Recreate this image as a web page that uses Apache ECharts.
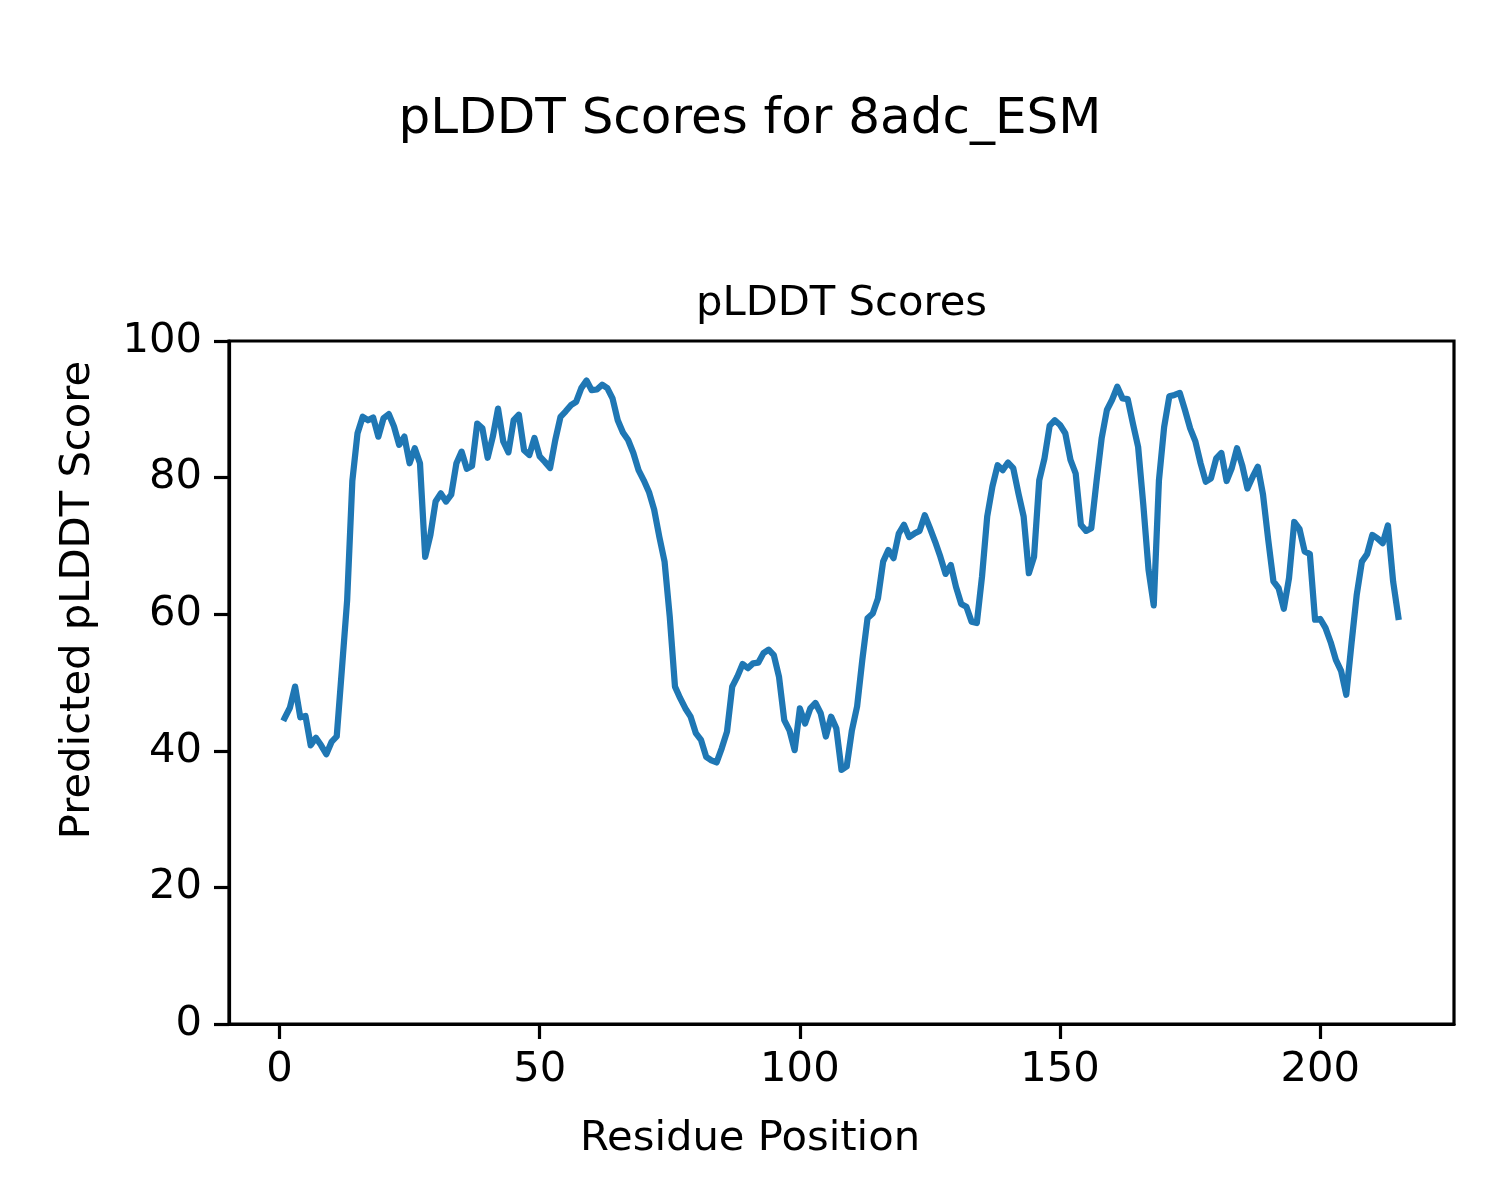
<!DOCTYPE html>
<html>
<head>
<meta charset="utf-8">
<script src="https://cdn.jsdelivr.net/npm/echarts@6/dist/echarts.min.js"></script>
<style>html,body{margin:0;padding:0;background:#fff;}#c{width:1500px;height:1200px;}</style>
</head>
<body>
<div id="c"></div>
<script>
const suptitle = 'pLDDT Scores for 8adc_ESM';
const axesTitle = 'pLDDT Scores';
const xLabel = 'Residue Position';
const yLabel = 'Predicted pLDDT Score';
const xTicks = [0, 50, 100, 150, 200];
const yTicks = [0, 20, 40, 60, 80, 100];
const firstResidue = 1;
const plddt = [
 44.8, 46.3, 49.4, 44.9, 45.1, 40.8, 41.9, 40.8, 39.5, 41.3,
 42.1, 52.0, 62.0, 79.5, 86.5, 88.9, 88.4, 88.8, 86.0, 88.7,
 89.3, 87.5, 84.8, 86.0, 82.1, 84.3, 82.1, 68.4, 71.6, 76.5,
 77.7, 76.5, 77.5, 82.1, 83.8, 81.3, 81.7, 87.9, 87.2, 82.9,
 86.0, 90.1, 85.3, 83.7, 88.4, 89.2, 84.0, 83.3, 85.8, 83.1,
 82.3, 81.4, 85.5, 88.9, 89.7, 90.6, 91.1, 93.1, 94.2, 92.8,
 92.9, 93.6, 93.1, 91.6, 88.4, 86.6, 85.5, 83.6, 81.1, 79.6,
 77.9, 75.3, 71.3, 67.7, 59.6, 49.4, 47.7, 46.2, 45.0, 42.6,
 41.6, 39.1, 38.6, 38.3, 40.4, 42.8, 49.4, 50.9, 52.7, 52.1,
 52.8, 52.9, 54.3, 54.8, 54.0, 50.8, 44.5, 43.0, 40.1, 46.2,
 44.0, 46.2, 47.0, 45.5, 42.1, 45.0, 43.3, 37.2, 37.7, 43.0,
 46.5, 53.3, 59.4, 60.1, 62.3, 67.7, 69.4, 68.2, 71.8, 73.1,
 71.3, 71.8, 72.2, 74.5, 72.6, 70.6, 68.4, 65.9, 67.2, 64.0,
 61.5, 61.1, 58.9, 58.7, 65.5, 74.3, 78.7, 81.8, 81.1, 82.2,
 81.4, 77.7, 74.3, 66.0, 68.4, 79.6, 82.8, 87.6, 88.4, 87.7,
 86.5, 82.6, 80.6, 73.1, 72.2, 72.6, 79.4, 85.8, 89.9, 91.4,
 93.3, 91.6, 91.5, 87.9, 84.5, 76.0, 66.5, 61.3, 79.6, 87.4,
 91.9, 92.1, 92.4, 89.9, 87.2, 85.3, 82.1, 79.4, 79.9, 82.8,
 83.6, 79.5, 81.4, 84.3, 81.8, 78.4, 80.1, 81.6, 77.5, 70.9,
 64.8, 63.8, 60.8, 65.3, 73.5, 72.5, 69.2, 68.8, 59.2, 59.3,
 58.0, 55.9, 53.3, 51.7, 48.2, 55.7, 62.8, 67.7, 68.8, 71.6,
 71.1, 70.4, 73.0, 64.8, 59.6
];

const FONT = 'DejaVu Sans';
const n = plddt.length;
const xFirst = firstResidue, xLast = firstResidue + n - 1;
const pad = (xLast - xFirst) * 0.05;
const seriesData = plddt.map((v, i) => [firstResidue + i, v]);
const AX = {color: '#000', width: 3.2};

const chart = echarts.init(document.getElementById('c'), null, {renderer: 'canvas'});
chart.setOption({
  animation: false,
  backgroundColor: '#ffffff',
  grid: {left: 229, right: 46, top: 341, bottom: 176, show: true, borderColor: '#000', borderWidth: 3.2, backgroundColor: 'transparent'},
  xAxis: {
    type: 'value', min: xFirst - pad, max: xLast + pad,
    splitLine: {show: false},
    axisLine: {show: true, onZero: false, lineStyle: AX},
    axisTick: {show: true, length: 15, inside: false, customValues: xTicks, lineStyle: AX},
    axisLabel: {show: true, customValues: xTicks, margin: 25, color: '#000', fontFamily: FONT, fontSize: 41.7, formatter: v => String(v)}
  },
  yAxis: {
    type: 'value', min: 0, max: 100, interval: 20,
    splitLine: {show: false},
    axisLine: {show: true, onZero: false, lineStyle: AX},
    axisTick: {show: true, length: 15, lineStyle: AX},
    axisLabel: {show: true, margin: 27, color: '#000', fontFamily: FONT, fontSize: 41.7, formatter: v => yTicks.includes(v) ? String(v) : ''}
  },
  series: [{
    type: 'line', data: seriesData, showSymbol: false, symbol: 'none',
    lineStyle: {color: '#1f77b4', width: 6.25, join: 'round', cap: 'square'},
    clip: true
  }],
  graphic: [
    {type: 'text', x: 750, y: 120, style: {text: suptitle, fill: '#000', font: '50px "DejaVu Sans"', align: 'center', verticalAlign: 'middle', textAlign: 'center', textVerticalAlign: 'middle'}},
    {type: 'text', x: 841.5, y: 304, style: {text: axesTitle, fill: '#000', font: '41.7px "DejaVu Sans"', align: 'center', verticalAlign: 'middle', textAlign: 'center', textVerticalAlign: 'middle'}},
    {type: 'text', x: 750, y: 1139, style: {text: xLabel, fill: '#000', font: '41.7px "DejaVu Sans"', align: 'center', verticalAlign: 'middle', textAlign: 'center', textVerticalAlign: 'middle'}},
    {type: 'text', x: 78, y: 600, rotation: Math.PI / 2, style: {text: yLabel, fill: '#000', font: '41.7px "DejaVu Sans"', align: 'center', verticalAlign: 'middle', textAlign: 'center', textVerticalAlign: 'middle'}}
  ]
});
</script>
</body>
</html>
